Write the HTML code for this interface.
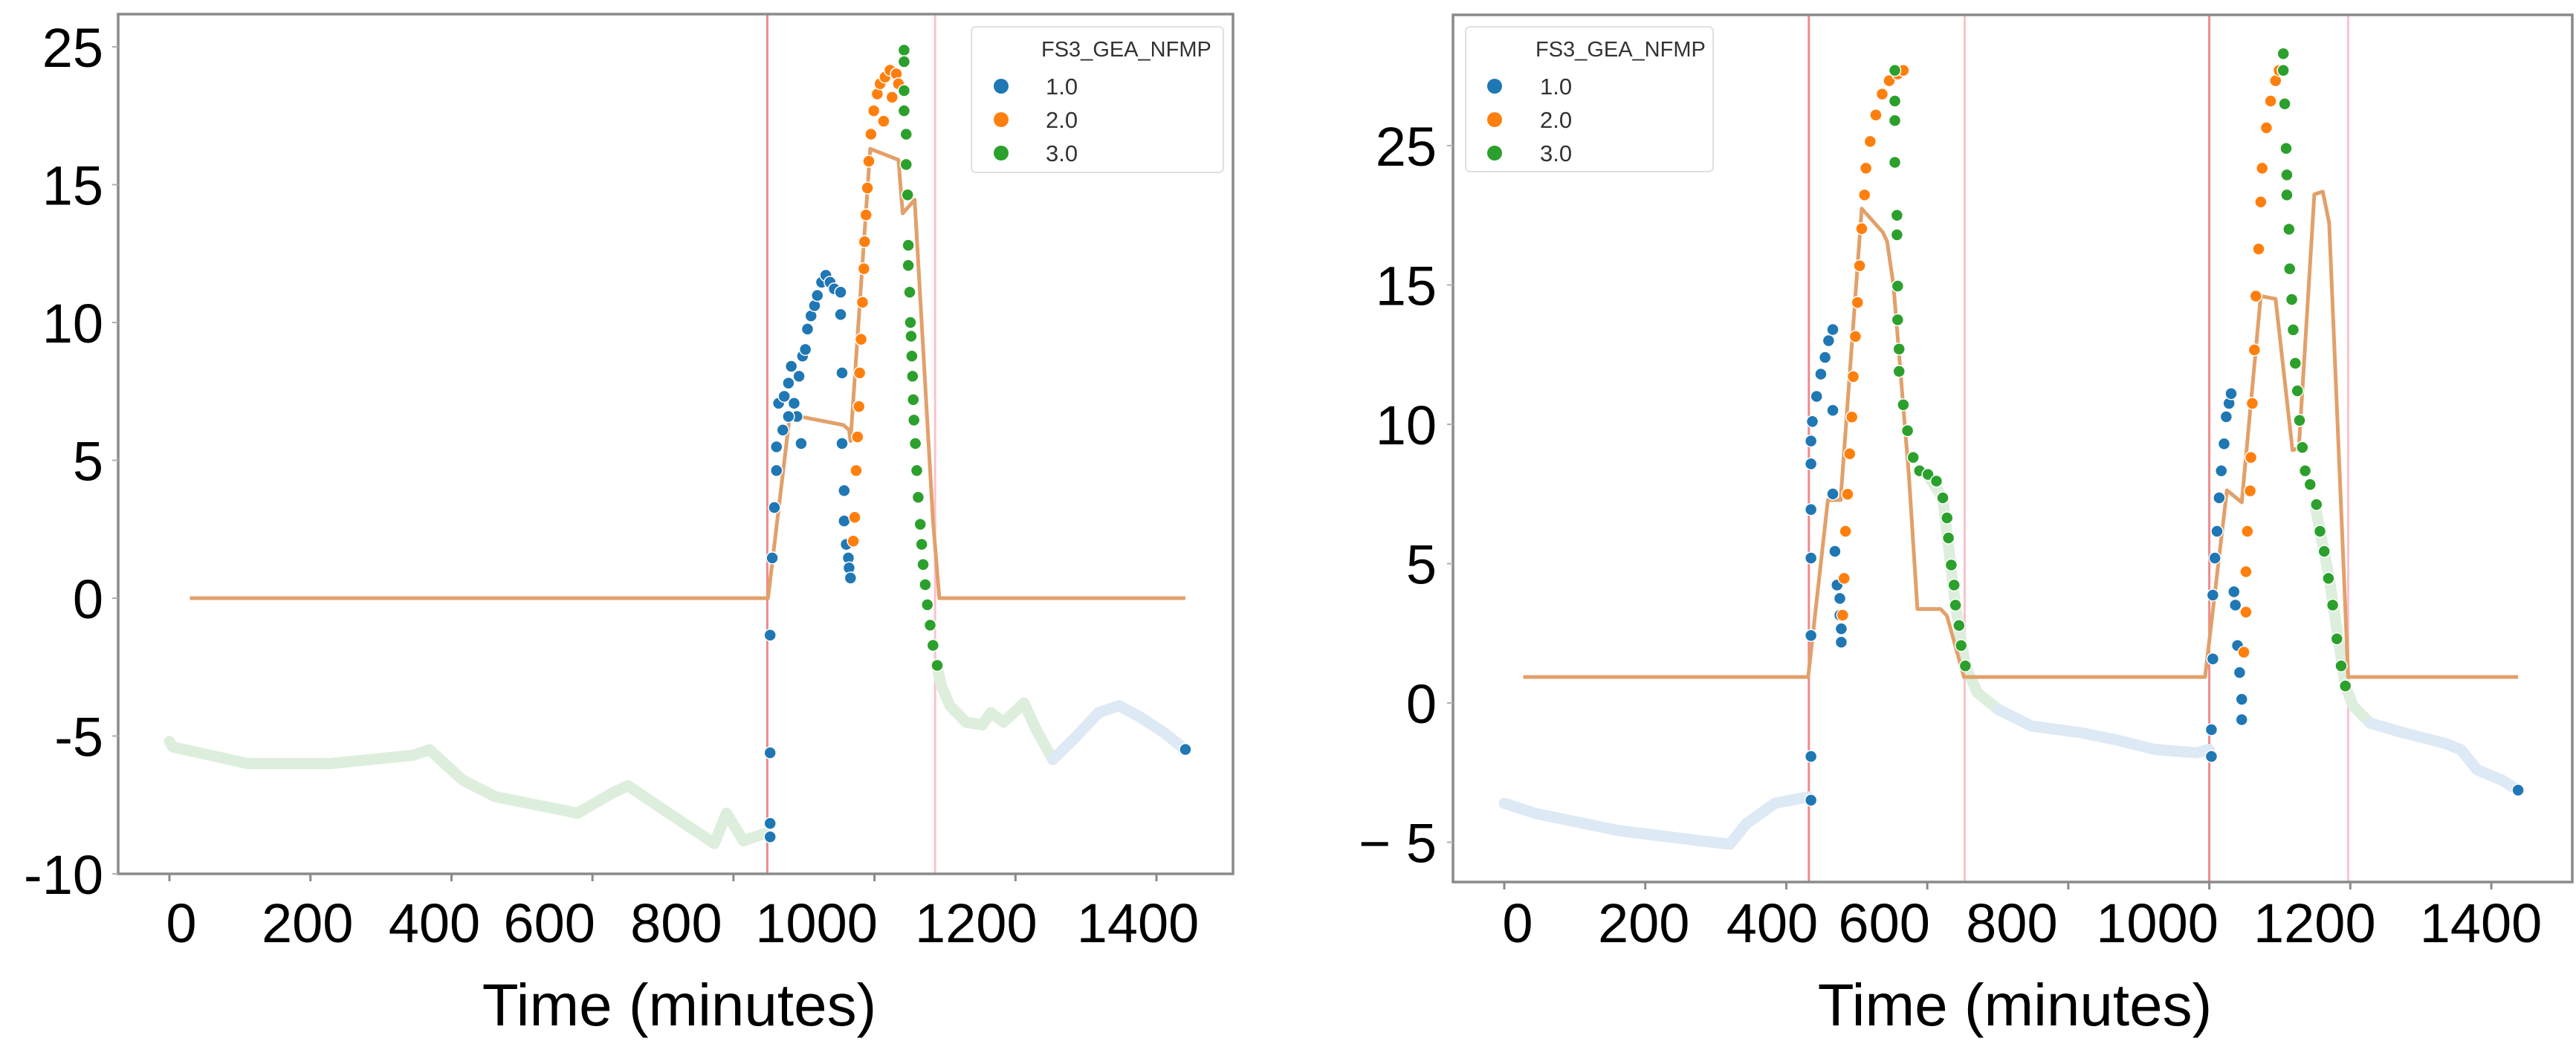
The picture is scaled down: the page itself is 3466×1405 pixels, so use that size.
<!DOCTYPE html>
<html><head><meta charset="utf-8">
<style>
html,body{margin:0;padding:0;background:#fff;}
svg{display:block;font-family:"Liberation Sans",sans-serif;}
</style></head>
<body>
<svg id="chart" width="3466" height="1405" viewBox="0 0 3466 1405" xmlns="http://www.w3.org/2000/svg"></svg>
<script>
// ===== Shared tick data =====
const xTickValues = [0,200,400,600,800,1000,1200,1400];
const xTickText = ["0","200","400","600","800","1000","1200","1400"];
const legendTitle = "FS3_GEA_NFMP";
const legendLabels = ["1.0","2.0","3.0"];

// ===== Left panel data =====
const L_yTickValues = [20,15,10,5,0,-5,-10];
const L_yTickText = ["25","15","10","5","0","-5","-10"];
const L_redLines = [848,1086];
const L_faintGreen1 = [[0,-5.2],[5,-5.4],[111,-6.0],[228,-6.0],[345,-5.7],[369,-5.5],[416,-6.6],[462,-7.2],[579,-7.8],[626,-7.1],[650,-6.8],[720,-8.0],[773,-8.9],[790,-7.8],[814,-8.8],[849,-8.5]];
const L_faintGreen2 = [[1088,-2.4],[1095,-3.2],[1107,-3.9],[1130,-4.5],[1153,-4.6],[1165,-4.15],[1183,-4.5],[1212,-3.8],[1230,-4.8],[1253,-5.85]];
const L_faintBlue = [[1253,-5.85],[1283,-5.1],[1318,-4.15],[1347,-3.9],[1376,-4.3],[1412,-4.9],[1441,-5.5]];
const L_blue = [[852,-8.66],[852,-8.17],[852,-5.61],[852,-1.34],[855,1.46],[858,3.29],[861,4.63],[861,5.49],[864,7.07],
 [872,7.32],[878,7.8],[882,8.41],[886,7.07],[890,6.59],[893,8.05],[898,8.78],[902,9.02],[905,9.76],[910,10.24],[915,10.61],[919,10.98],[925,11.46],[931,11.71],[937,11.46],[943,11.22],[896,5.61],[870,6.1],[878,6.59],
 [952,11.1],[952,10.29],[954,8.17],[954,5.61],[957,3.9],[957,2.8],[960,1.95],[963,1.46],[964,1.1],[966,0.73],[1441,-5.49]];
const L_orange = [[970,2.07],[972,2.93],[974,4.63],[976,5.85],[978,6.95],[979,8.17],[981,9.39],[983,10.73],[985,11.95],[986,12.93],[988,13.9],[990,14.88],[992,15.85],[995,16.83],[999,17.68],[1004,18.29],[1008,18.66],[1015,18.9],[1022,19.15],[1031,19.02],[1013,17.3],[1025,18.17],[1034,18.66]];
const L_green = [[1042,19.88],[1042,19.46],[1042,18.41],[1042,17.68],[1045,16.83],[1045,15.73],[1047,14.63],[1048,12.8],[1048,12.07],[1050,11.1],[1051,10.0],[1052,9.5],[1053,8.78],[1054,8.05],[1055,7.2],[1056,6.46],[1058,5.61],[1060,4.63],[1062,3.66],[1065,2.68],[1067,1.95],[1069,1.22],[1072,0.49],[1075,-0.24],[1079,-0.98],[1083,-1.71],[1089,-2.44]];
const L_model = [[29,0],[849,0],[880,6.66],[956,6.28],[964,6.1],[966,5.7],[994,16.3],[1034,15.9],[1040,13.96],[1057,14.45],[1083,2.8],[1092,0],[1441,0]];

// ===== Right panel data =====
const R_yTickValues = [20,15,10,5,0,-5];
const R_yTickText = ["25","15","10","5","0","\u2212 5"];
const R_redLines = [432,653,1000,1197];
const R_faintBlue1 = [[0,-3.6],[45,-3.97],[162,-4.58],[279,-4.95],[320,-5.07],[343,-4.34],[384,-3.6],[431,-3.37]];
const R_faintGreen1 = [[600,8.2],[622,7.36],[640,3.5],[654,1.33],[671,0.37],[701,-0.24]];
const R_faintBlue2 = [[701,-0.24],[748,-0.83],[818,-1.07],[865,-1.31],[923,-1.67],[982,-1.79],[1000,-1.67]];
const R_faintGreen2 = [[1150,7.1],[1170,4.5],[1193,0.61],[1204,-0.11],[1228,-0.72]];
const R_faintBlue3 = [[1228,-0.72],[1275,-1.07],[1333,-1.44],[1357,-1.68],[1380,-2.4],[1415,-2.77],[1438,-3.13]];
const R_blue = [[435,-3.49],[435,-1.92],[435,2.42],[435,5.2],[435,6.94],[435,8.58],[435,9.4],[437,10.1],[443,11.0],[449,11.8],[455,12.4],[460,13.0],[466,13.4],
 [466,10.5],[466,7.5],[469,5.44],[472,4.23],[476,3.75],[476,3.15],[478,2.66],[478,2.18],
 [1003,-1.92],[1003,-0.96],[1005,1.58],[1005,3.87],[1008,5.2],[1011,6.16],[1014,7.36],[1017,8.33],[1021,9.3],[1024,10.27],[1028,10.75],[1031,11.1],
 [1035,3.99],[1037,3.51],[1040,2.06],[1043,1.09],[1046,0.13],[1046,-0.6],[1438,-3.13]];
const R_orange = [[480,3.15],[482,4.47],[484,6.16],[487,7.49],[490,8.94],[493,10.26],[495,11.71],[498,13.15],[501,14.37],[504,15.69],[507,17.02],[511,18.23],[513,19.19],[519,20.15],[527,21.1],[536,21.85],[546,22.33],[558,22.57],[566,22.7],
 [1049,1.82],[1052,3.26],[1052,4.71],[1054,6.16],[1058,7.61],[1059,8.81],[1061,10.75],[1064,12.67],[1066,14.6],[1070,16.29],[1073,17.98],[1075,19.19],[1081,20.64],[1087,21.6],[1094,22.33],[1099,22.7]];
const R_green = [[554,22.7],[554,21.6],[554,20.9],[554,19.4],[557,17.5],[557,16.8],[558,14.96],[558,13.75],[560,12.7],[560,11.9],[566,10.7],[572,9.77],[580,8.81],[589,8.33],[601,8.2],[613,7.96],[622,7.36],[628,6.64],[630,5.92],[634,4.95],[638,4.23],[640,3.51],[645,2.78],[648,2.06],[654,1.33],
 [1105,23.3],[1105,22.7],[1107,21.5],[1109,19.9],[1110,18.95],[1110,18.23],[1113,17.0],[1114,15.58],[1117,14.48],[1119,13.39],[1122,12.19],[1125,11.2],[1128,10.14],[1132,9.17],[1136,8.33],[1143,7.84],[1152,7.12],[1157,6.16],[1163,5.44],[1169,4.47],[1175,3.51],[1181,2.3],[1187,1.33],[1193,0.61]];
const R_model = [[27,0.93],[431,0.93],[459,7.28],[477,7.28],[507,17.74],[537,16.89],[543,16.56],[552,15.0],[574,8.13],[586,3.37],[619,3.37],[628,3.12],[652,0.93],[994,0.93],[1025,7.63],[1046,7.2],[1073,14.6],[1094,14.5],[1118,9.07],[1127,9.15],[1149,18.25],[1161,18.35],[1170,17.23],[1197,0.93],[1438,0.93]];

// ===== Drawing =====
const NS = "http://www.w3.org/2000/svg";
const svg = document.getElementById('chart');
const COLORS = {blue:"#1f77b4",orange:"#ff7f0e",green:"#2ca02c",model:"#e2a06a",fblue:"#dde9f4",fgreen:"#ddeedd"};
function mk(tag, attrs, parent){
  const e = document.createElementNS(NS, tag);
  for (const k in attrs) e.setAttribute(k, attrs[k]);
  (parent||svg).appendChild(e);
  return e;
}

function drawPanel(p){
  const g = mk('g', {});
  
  
  const xs = m => p.x0 + m * p.pxPerMin;
  const ys = v => p.yZero - v * p.pxPerUnit;
  const clip = mk('clipPath', {id: p.name + '-clip'}, g);
  mk('rect', {x:p.left, y:p.top, width:p.right-p.left, height:p.bottom-p.top}, clip);
  const plot = mk('g', {'clip-path':'url(#' + p.name + '-clip)'}, g);
  
  

  p.redLines.forEach((m, i) => {
    const l = mk('line', {x1:xs(m), x2:xs(m), y1:p.top, y2:p.bottom, stroke: i % 2 === 0 ? '#ee8a8a' : '#f9c3cc', 'stroke-width':3}, plot);
    
    
  });
  p.faint.forEach(f => {
    const pl = mk('polyline', {points: f.data.map(d => xs(d[0]) + ',' + ys(d[1])).join(' '), fill:'none', stroke: f.color, 'stroke-width':15, 'stroke-linejoin':'round', 'stroke-linecap':'round'}, plot);
    
    
  });
  const ml = mk('polyline', {points: p.model.map(d => xs(d[0]) + ',' + ys(d[1])).join(' '), fill:'none', stroke: COLORS.model, 'stroke-width':5, 'stroke-linejoin':'round'}, plot);
  
  
  [['blue', p.blue], ['orange', p.orange], ['green', p.green]].forEach(([c, arr]) => {
    arr.forEach(d => {
      const dot = mk('circle', {cx: xs(d[0]), cy: ys(d[1]), r: 8, fill: COLORS[c], stroke:'#fff', 'stroke-width':1.5}, plot);
      
      
    });
  });
  const fr = mk('rect', {x:p.left, y:p.top, width:p.right-p.left, height:p.bottom-p.top, fill:'none', stroke:'#8a8a8a', 'stroke-width':3.5}, g);
  
  
  xTickValues.forEach((v, i) => {
    const x = xs(v);
    const t = mk('line', {x1:x, x2:x, y1:p.bottom, y2:p.bottom + 10, stroke:'#8a8a8a', 'stroke-width':3}, g);
    
    
    const tx = mk('text', {x: x + p.xLabelShift[i], y: 1268, 'font-size':74, 'text-anchor':'middle', fill:'#000'}, g);
    tx.textContent = xTickText[i];
    
    
  });
  p.yTickValues.forEach((v, i) => {
    const y = ys(v);
    const t = mk('line', {x1:p.left - 8, x2:p.left, y1:y, y2:y, stroke:'#b0b0b0', 'stroke-width':2}, g);
    
    
    const tx = mk('text', {x: p.yLabelRight, y: y + 27, 'font-size':74, 'text-anchor':'end', fill:'#000'}, g);
    tx.textContent = p.yTickText[i];
    
    
  });
  const xt = mk('text', {x: p.titleX, y: 1380, 'font-size':80, 'text-anchor':'middle', fill:'#000'}, g);
  xt.textContent = 'Time (minutes)';
  
  
  const lg = mk('g', {}, g);
  
  
  mk('rect', {x:p.legend.x, y:p.legend.y, width:p.legend.w, height:p.legend.h, rx:6, fill:'#fff', 'fill-opacity':0.85, stroke:'#e0e0e0', 'stroke-width':2}, lg);
  const lt = mk('text', {x:p.legend.x + p.legend.tx, y:p.legend.y + 40, 'font-size':29, fill:'#333'}, lg);
  lt.textContent = legendTitle;
  
  
  ['blue','orange','green'].forEach((c, i) => {
    const yy = p.legend.y + 80 + i * 45;
    const e = mk('g', {}, lg);
    
    
    mk('circle', {cx:p.legend.x + p.legend.mx, cy:yy, r:10, fill:COLORS[c]}, e);
    const et = mk('text', {x:p.legend.x + p.legend.tx + 6, y:yy + 11, 'font-size':31, fill:'#333'}, e);
    et.textContent = legendLabels[i];
  });
}

drawPanel({
  name:'left-panel', left:159, right:1659, top:19, bottom:1176,
  x0:228, pxPerMin:0.9486, yZero:805, pxPerUnit:37.1,
  redLines:L_redLines, model:L_model, blue:L_blue, orange:L_orange, green:L_green,
  faint:[{data:L_faintGreen1,color:COLORS.fgreen},{data:L_faintGreen2,color:COLORS.fgreen},{data:L_faintBlue,color:COLORS.fblue}],
  yTickValues:L_yTickValues, yTickText:L_yTickText, yLabelRight:139,
  xLabelShift:[16,-4,-23,-58,-77,-78,-53,-25], titleX:914,
  legend:{x:1307,y:36,w:339,h:196,mx:40,tx:94}
});
drawPanel({
  name:'right-panel', left:1955, right:3461, top:20, bottom:1187,
  x0:2024, pxPerMin:0.9486, yZero:946, pxPerUnit:37.5,
  redLines:R_redLines, model:R_model, blue:R_blue, orange:R_orange, green:R_green,
  faint:[{data:R_faintBlue1,color:COLORS.fblue},{data:R_faintGreen1,color:COLORS.fgreen},{data:R_faintBlue2,color:COLORS.fblue},{data:R_faintGreen2,color:COLORS.fgreen},{data:R_faintBlue3,color:COLORS.fblue}],
  yTickValues:R_yTickValues, yTickText:R_yTickText, yLabelRight:1933,
  xLabelShift:[18,-2,-19,-58,-76,-70,-48,-14], titleX:2711,
  legend:{x:1972,y:36,w:333,h:195,mx:39,tx:94}
});
</script>
</body></html>
